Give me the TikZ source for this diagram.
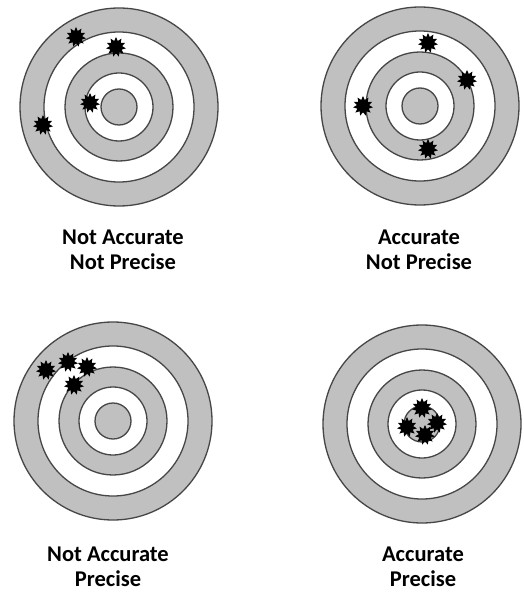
\documentclass[tikz,border=0pt]{standalone}
\usepackage{fontspec}
\setmainfont{Carlito}
\usepackage{tikz}
\usetikzlibrary{shapes.geometric}
\definecolor{ringgray}{RGB}{192,192,192}
\definecolor{ringline}{RGB}{70,70,70}

\begin{document}
\begin{tikzpicture}[x=1pt,y=-1pt,
    ring/.style={fill=#1,draw=ringline,line width=1.3pt},
    hole/.style={star,star points=11,star point ratio=1.6,fill=black,
      minimum size=20pt,inner sep=0pt},
    verdict/.style={align=center,font=\fontsize{22.5}{25.5}\selectfont\bfseries}]
  \useasboundingbox[fill=white] (0,0) rectangle (523,593);
  % the four targets
  \foreach \cx/\cy in {119/107, 420/106, 113/421, 422/424} {
    \filldraw[ring=ringgray] (\cx,\cy) circle (99);
    \filldraw[ring=white] (\cx,\cy) circle (75);
    \filldraw[ring=ringgray] (\cx,\cy) circle (54);
    \filldraw[ring=white] (\cx,\cy) circle (34);
    \filldraw[ring=ringgray] (\cx,\cy) circle (18);
  }
  % shots
  \node[hole] (a1) at (76,37) {};
  \node[hole] (a2) at (116,47) {};
  \node[hole] (a3) at (90,103) {};
  \node[hole] (a4) at (43,125) {};
  \node[hole] (b1) at (428,43) {};
  \node[hole] (b2) at (467,80) {};
  \node[hole] (b3) at (363,106) {};
  \node[hole] (b4) at (428,149) {};
  \node[hole] (c1) at (46,370) {};
  \node[hole] (c2) at (68,362) {};
  \node[hole] (c3) at (87,367) {};
  \node[hole] (c4) at (74,385) {};
  \node[hole] (d1) at (422,408) {};
  \node[hole] (d2) at (407,427) {};
  \node[hole] (d3) at (437,423) {};
  \node[hole] (d4) at (425,435) {};
  % labels
  \node[verdict] (ltl) at (123,250) {Not Accurate\\Not Precise};
  \node[verdict] (ltr) at (419,250) {Accurate\\Not Precise};
  \node[verdict] (lbl) at (108,567) {Not Accurate\\Precise};
  \node[verdict] (lbr) at (423,567) {Accurate\\Precise};
\end{tikzpicture}
\end{document}
